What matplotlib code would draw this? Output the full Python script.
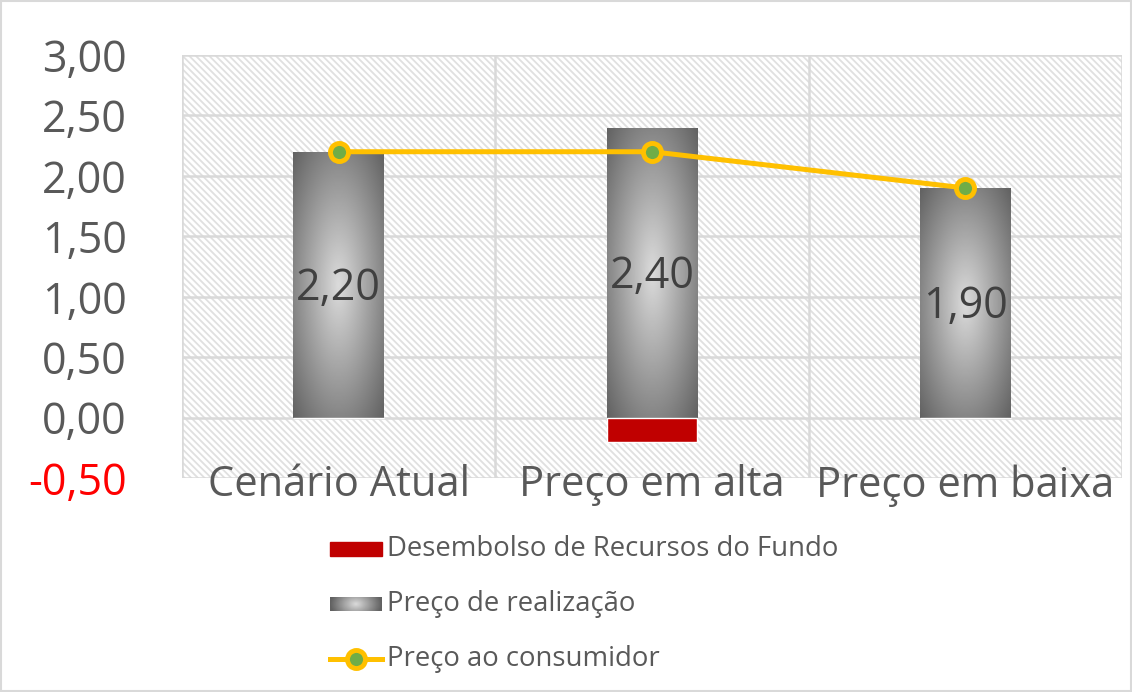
import numpy as np
import matplotlib
matplotlib.use("Agg")
import matplotlib.pyplot as plt
from matplotlib.patches import Rectangle
from matplotlib.lines import Line2D

# data
categorias = ["Cenário Atual", "Preço em alta", "Preço em baixa"]
desembolso = [0.0, -0.20, 0.0]
preco_realizacao = [2.20, 2.40, 1.90]
preco_consumidor = [2.20, 2.20, 1.90]
rotulos = ["2,20", "2,40", "1,90"]
yticks = [-0.5, 0, 0.5, 1.0, 1.5, 2.0, 2.5, 3.0]

plt.rcParams["font.family"] = ["Open Sans", "DejaVu Sans"]
plt.rcParams["hatch.linewidth"] = 1.3
TXT = "#595959"
GRID = "#d9d9d9"

fig = plt.figure(figsize=(11.32, 6.92), dpi=100)
fig.patches.append(Rectangle((0.001, 0.001), 0.998, 0.998, transform=fig.transFigure,
                             fill=False, edgecolor=GRID, lw=1.5))
ax = fig.add_axes([0.1608, 0.309, 0.8304, 0.6115])
x = np.arange(len(categorias))
ax.set_xlim(-0.5, 2.5)
ax.set_ylim(-0.5, 3.0)

# hatched background
ax.add_patch(Rectangle((0, 0), 1, 1, transform=ax.transAxes, facecolor="white",
                       edgecolor="#e0e0e0", hatch="\\\\\\\\\\", lw=0, zorder=0))
for y in yticks:
    ax.axhline(y, color=GRID, lw=1.8, zorder=1)
for xv in [-0.5, 0.5, 1.5, 2.5]:
    ax.axvline(xv, color=GRID, lw=1.8, zorder=1)
for s in ax.spines.values():
    s.set_visible(False)

# gradient image (radial)
n = 200
gx, gy = np.meshgrid(np.linspace(-1, 1, n), np.linspace(-1, 1, n))
r = np.clip(np.sqrt(gx ** 2 + gy ** 2) / np.sqrt(2), 0, 1)
light, dark = 0.86, 0.38
grad = light + (dark - light) * r

w = 0.29
bars = ax.bar(x, preco_realizacao, width=w, color="none", zorder=2)
for b in bars:
    bx, by, bw, bh = b.get_x(), b.get_y(), b.get_width(), b.get_height()
    im = ax.imshow(grad, cmap="gray", vmin=0, vmax=1, extent=(bx, bx + bw, by, by + bh),
                   aspect="auto", zorder=2, interpolation="bilinear")
    im.set_clip_path(b)
ax.set_xlim(-0.5, 2.5)
ax.set_ylim(-0.5, 3.0)

ax.bar(x, desembolso, width=w, color="#c00000", zorder=2,
       edgecolor="white", linewidth=1)

for xi, v, t in zip(x, preco_realizacao, rotulos):
    ax.text(xi, v / 2 - 0.03, t, ha="center", va="center", fontsize=31, color="#404040", zorder=4)

ax.plot(x, preco_consumidor, color="#ffc000", lw=3.6, marker="o", markersize=13,
        markerfacecolor="#70ad47", markeredgecolor="#ffc000", markeredgewidth=3.5, zorder=5)

ax.set_xticks(x)
ax.set_xticklabels(categorias, fontsize=30, color=TXT)
ax.set_yticks(yticks)
ax.set_yticklabels([f"{v:.2f}".replace(".", ",") for v in yticks], fontsize=31, color=TXT)
ax.get_yticklabels()[0].set_color("#ff0000")
ax.tick_params(length=0)
ax.tick_params(axis="y", pad=40)
ax.tick_params(axis="x", pad=-10)

# legend drawn in figure coordinates
lg = fig.add_axes([0, 0, 1, 1], facecolor="none")
lg.set_xlim(0, 1132)
lg.set_ylim(692, 0)
lg.axis("off")
hx0, hx1 = 330, 382
ys = [549, 604, 659]
lg.add_patch(Rectangle((hx0, ys[0] - 7), hx1 - hx0, 14, color="#c00000"))
lgx, lgy = np.meshgrid(np.linspace(-1, 1, 60), np.linspace(-1, 1, 20))
lgr = np.clip(np.sqrt(lgx ** 2 + (lgy * 0.4) ** 2), 0, 1)
lg.imshow(light + (dark - light) * lgr, cmap="gray", vmin=0, vmax=1,
          extent=(hx0, hx1, ys[1] + 7, ys[1] - 7), aspect="auto", interpolation="bilinear")
lg.add_line(Line2D([hx0, hx1], [ys[2], ys[2]], color="#ffc000", lw=3.6))
lg.plot([(hx0 + hx1) / 2], [ys[2]], marker="o", markersize=13, markerfacecolor="#70ad47",
        markeredgecolor="#ffc000", markeredgewidth=3.5)
labels = ["Desembolso de Recursos do Fundo", "Preço de realização", "Preço ao consumidor"]
for y, t in zip(ys, labels):
    lg.text(387, y, t, va="center", ha="left", fontsize=19.8, color=TXT)
lg.set_xlim(0, 1132)
lg.set_ylim(692, 0)

fig.savefig("out.png")
